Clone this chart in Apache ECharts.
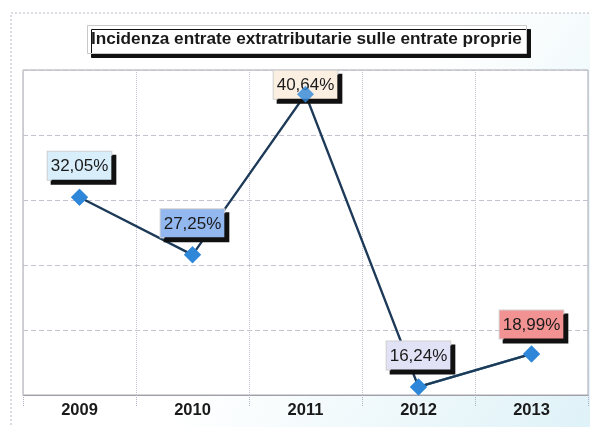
<!DOCTYPE html>
<html>
<head>
<meta charset="utf-8">
<script src="https://cdn.jsdelivr.net/npm/echarts@6/dist/echarts.min.js"></script>
<style>
html,body{margin:0;padding:0;background:#fff;}
#c{width:590px;height:427px;}
</style>
</head>
<body>
<div id="c"></div>
<script>
const titleText = 'Incidenza entrate extratributarie sulle entrate proprie';
const categories = ['2009', '2010', '2011', '2012', '2013'];
const values = [32.05, 27.25, 40.64, 16.24, 18.99];
const labelColors = ['#d8eefb', '#93b8ef', '#fbefe2', '#e2e2f7', '#f29292'];
const labelOffsetY = [0, 0, 22, 0, 2];

const chart = echarts.init(document.getElementById('c'), null, {renderer: 'canvas'});
const FONT = "'Liberation Sans', Arial, sans-serif";

const fmt = v => v.toFixed(2).replace('.', ',') + '%';

const mainData = values.map((v, i) => ({
  value: v,
  label: {
    backgroundColor: labelColors[i],
    offset: [0, labelOffsetY[i]]
  }
}));
// last segment drawn in a lighter teal
const lastSeg = values.map((v, i) => (i >= values.length - 2 ? v : null));

chart.setOption({
  animation: false,
  backgroundColor: '#ffffff',
  graphic: [
    {
      type: 'rect', z: -10, silent: true,
      shape: {x: 11, y: 13, width: 600, height: 430},
      style: {
        fill: new echarts.graphic.LinearGradient(0, 0, 1, 1, [
          {offset: 0, color: '#ffffff'},
          {offset: 0.5, color: '#ffffff'},
          {offset: 1, color: '#dcf1f7'}
        ]),
        stroke: '#b8b8c8', lineWidth: 1, lineDash: [2, 2]
      }
    }
  ],
  title: {
    text: titleText,
    left: 87,
    top: 25,
    padding: [6, 5, 6, 4],
    backgroundColor: '#ffffff',
    borderColor: '#c8c8c8',
    borderWidth: 1,
    shadowColor: '#111',
    shadowBlur: 0,
    shadowOffsetX: 4,
    shadowOffsetY: 4,
    textStyle: {
      fontFamily: FONT, fontSize: 17.2, fontWeight: 'bold', color: '#1a1a1a'
    }
  },
  grid: {
    left: 23, right: 2, top: 70, bottom: 32,
    show: true, backgroundColor: '#ffffff', borderColor: '#a8a8b0', borderWidth: 1
  },
  xAxis: {
    type: 'category',
    data: categories,
    boundaryGap: true,
    axisLine: {show: true, lineStyle: {color: '#a0a0a8', width: 1}},
    axisTick: {show: true, length: 11, lineStyle: {color: '#b0b0c0', type: 'dotted'}},
    splitLine: {show: true, lineStyle: {color: '#c4c4d0', type: 'dotted', width: 1}},
    axisLabel: {
      fontFamily: FONT, fontSize: 16.5, fontWeight: 'bold', color: '#1a1a1a', margin: 7
    }
  },
  yAxis: [
    {
      type: 'value', min: 15.57, max: 42.66,
      axisLine: {show: false}, axisTick: {show: false},
      axisLabel: {show: false}, splitLine: {show: false}
    },
    {
      type: 'value', min: 0, max: 5, interval: 1, position: 'left',
      axisLine: {show: false}, axisTick: {show: false},
      axisLabel: {show: false},
      splitLine: {show: true, lineStyle: {color: '#c4c4d0', type: [5, 3], width: 1}}
    }
  ],
  series: [
    {
      type: 'line',
      data: mainData,
      yAxisIndex: 0,
      symbol: 'diamond',
      symbolSize: 17,
      z: 3,
      lineStyle: {color: '#1d3a58', width: 2.3},
      itemStyle: {color: '#2f87da', borderColor: '#2f87da', borderWidth: 0},
      label: {
        show: true,
        position: 'top',
        distance: 9,
        formatter: p => fmt(p.value),
        fontFamily: FONT, fontSize: 17, color: '#1a1a1a',
        padding: [6, 3, 5, 3],
        borderColor: '#d0d0d0', borderWidth: 1,
        shadowColor: '#111', shadowBlur: 0, shadowOffsetX: 4, shadowOffsetY: 4
      }
    },
    {
      type: 'line',
      data: lastSeg,
      yAxisIndex: 0,
      symbol: 'none',
      z: 2,
      lineStyle: {color: '#2b7b9e', width: 2.3},
      silent: true
    },
    {
      type: 'scatter',
      data: values,
      yAxisIndex: 0,
      symbol: 'diamond',
      symbolSize: 17,
      z: 10,
      itemStyle: {color: '#2f87da'},
      silent: true
    }
  ]
});
</script>
</body>
</html>
